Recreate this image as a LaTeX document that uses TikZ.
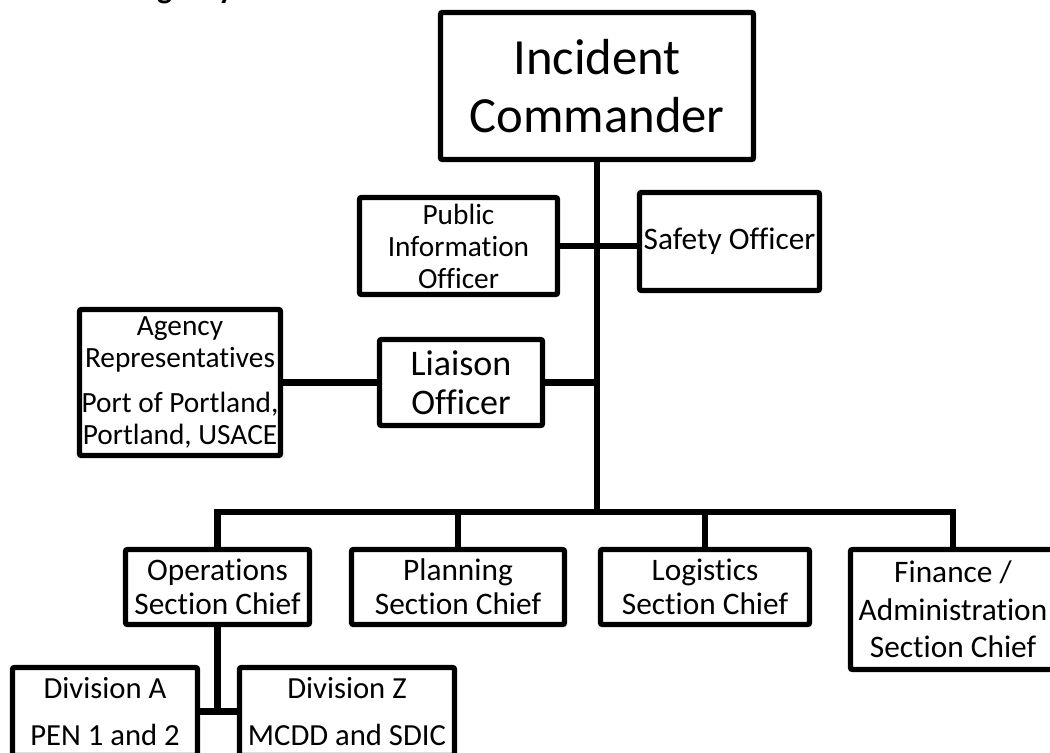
\documentclass[tikz,border=0pt]{standalone}
\usepackage{fontspec}
\setmainfont{Carlito}[Ligatures=NoCommon]
\usepackage{tikz}
\usetikzlibrary{positioning}

\begin{document}
\begin{tikzpicture}[x=0.75pt,y=-0.75pt]
        \tikzset{box/.style = {draw, line width=4pt, rounded corners=1.5pt, align=center, inner sep=0pt}}
        \tikzset{link/.style = {line width=5pt}}
        \tikzset{chief/.style = {box, minimum height=75*0.75pt, font=\fontsize{23.5}{25.5}\selectfont}}

        \useasboundingbox (0,0) rectangle (1050,753);

        % title (cut off at the top)
        \node[anchor=base west, inner sep=0pt, font=\bfseries\fontsize{24}{24}\selectfont] (title) at (88,-2) {Emergency};

        % command staff
        \node[box, minimum width=313*0.75pt, minimum height=147*0.75pt, font=\fontsize{38}{43}\selectfont] (ic) at (597,86) {Incident\\Commander};
        \node[box, minimum width=198*0.75pt, minimum height=97*0.75pt, font=\fontsize{22}{24}\selectfont] (pio) at (458.5,246) {Public\\Information\\Officer};
        \node[box, minimum width=180*0.75pt, minimum height=98*0.75pt, font=\fontsize{23.5}{26}\selectfont] (safety) at (729.5,241.5) {Safety Officer};
        \node[box, minimum width=163*0.75pt, minimum height=86*0.75pt, font=\fontsize{27}{29}\selectfont] (liaison) at (461,382.5) {Liaison\\Officer};
        \node[box, minimum width=201*0.75pt, minimum height=146*0.75pt, font=\fontsize{22}{24}\selectfont] (agency) at (180,382.5) {Agency\\Representatives\\[10pt]Port of Portland,\\Portland, USACE};

        % general staff
        \node[chief, minimum width=184*0.75pt] (ops) at (217.5,587) {Operations\\Section Chief};
        \node[chief, minimum width=213*0.75pt] (plan) at (458,587) {Planning\\Section Chief};
        \node[chief, minimum width=209*0.75pt] (log) at (705,587) {Logistics\\Section Chief};
        \node[chief, minimum width=205*0.75pt, minimum height=120*0.75pt, font=\fontsize{23.5}{28}\selectfont] (fin) at (953,609.5) {Finance /\\Administration\\Section Chief};

        % divisions
        \node[box, minimum width=185*0.75pt, minimum height=88*0.75pt, font=\fontsize{23}{25}\selectfont] (diva) at (105,711.5) {Division A\\[10pt]PEN 1 and 2};
        \node[box, minimum width=215*0.75pt, minimum height=88*0.75pt, font=\fontsize{23}{25}\selectfont] (divz) at (347,711.5) {Division Z\\[10pt]MCDD and SDIC};

        % trunk and bus
        \coordinate (bus) at (597,512);
        \draw[link] (ic.south) -- (bus);
        \draw[link] (pio.east) -- (safety.west |- pio.east);
        \draw[link] (agency.east) -- (liaison.west);
        \draw[link] (liaison.east) -- (liaison.east -| ic.south);
        \draw[link] (ops.north) |- (bus) -| (fin.north);
        \draw[link] (plan.north) -- (plan.north |- bus);
        \draw[link] (log.north) -- (log.north |- bus);

        % operations branch
        \draw[link] (ops.south) -- (ops.south |- diva.east);
        \draw[link] (diva.east) -- (divz.west);

\end{tikzpicture}
\end{document}
